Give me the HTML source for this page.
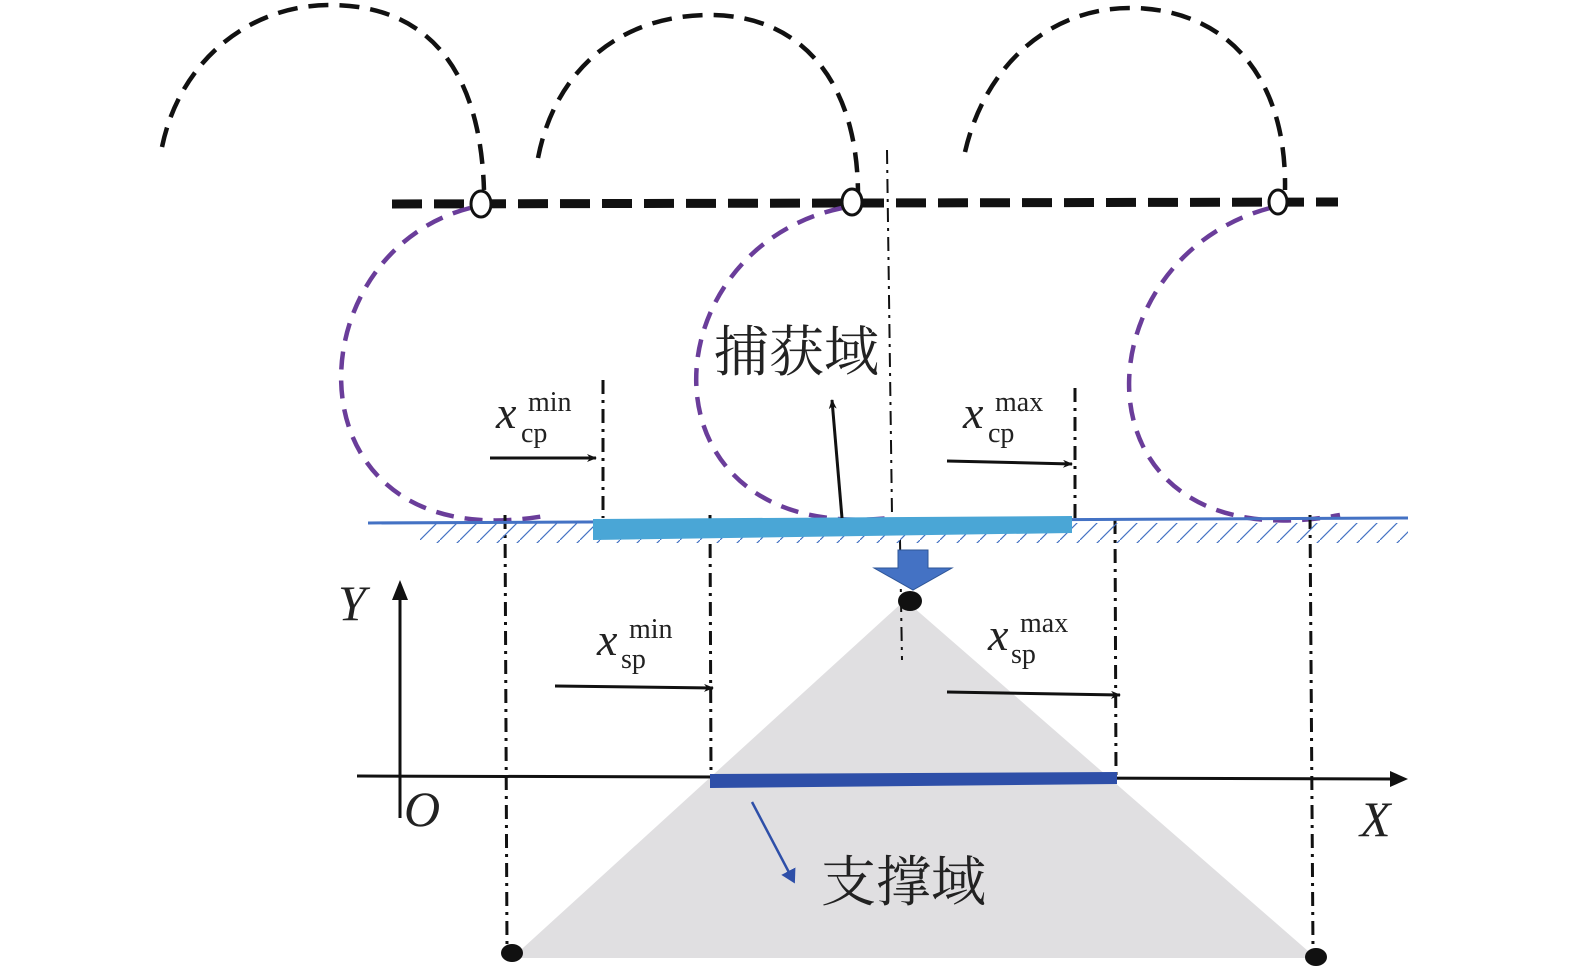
<!DOCTYPE html>
<html><head><meta charset="utf-8"><style>html,body{margin:0;padding:0;background:#fff}svg{display:block}</style></head>
<body>
<svg width="1575" height="972" viewBox="0 0 1575 972" xmlns="http://www.w3.org/2000/svg">
<defs>
<marker id="ah" markerWidth="10" markerHeight="8" refX="9" refY="4" orient="auto" markerUnits="userSpaceOnUse"><path d="M0,0 L10,4 L0,8 L3,4z" fill="#111"/></marker>
<marker id="ahb" markerWidth="16" markerHeight="16" refX="10" refY="8" orient="auto" markerUnits="userSpaceOnUse"><path d="M0,0 L14,8 L0,16z" fill="#2e4fa8"/></marker>
<pattern id="hatch" width="20" height="20" patternUnits="userSpaceOnUse"><path d="M0,20 L20,0" stroke="#4472c4" stroke-width="1.2"/></pattern>
</defs>
<polygon points="905,600 512,958 1316,958" fill="#e0dfe1"/>
<g fill="none" stroke="#111" stroke-width="4.5" stroke-dasharray="20,11">
<path d="M162,147 C180,60 250,5 330,5 C420,5 480,60 484,190"/>
<path d="M538,158 C555,70 620,15 710,15 C800,15 858,80 858,195"/>
<path d="M965,152 C985,65 1050,8 1130,8 C1220,8 1287,70 1285,190"/>
</g>
<line x1="392" y1="204" x2="1338" y2="202" stroke="#111" stroke-width="9" stroke-dasharray="30,12"/>
<g fill="none" stroke="#6a3d9a" stroke-width="4.5" stroke-dasharray="18,11">
<path d="M470,208 C288,255 285,565 550,515"/>
<path d="M842,208 C645,250 635,545 890,518"/>
<path d="M1270,208 C1075,260 1068,565 1340,515"/>
</g>
<g fill="#fff" stroke="#111" stroke-width="3">
<ellipse cx="481" cy="204" rx="10" ry="13"/>
<ellipse cx="852" cy="202" rx="10" ry="13"/>
<ellipse cx="1278" cy="202" rx="9" ry="12"/>
</g>
<g stroke="#111" stroke-width="3" stroke-dasharray="14,6,3,6" fill="none">
<line x1="887" y1="150" x2="892" y2="515" stroke-width="2"/>
<line x1="603" y1="380" x2="603" y2="518"/>
<line x1="1075" y1="388" x2="1075" y2="518"/>
<line x1="505" y1="515" x2="507" y2="948"/>
<line x1="1310" y1="515" x2="1313" y2="950"/>
<line x1="710" y1="515" x2="711" y2="775"/>
<line x1="1115" y1="520" x2="1116" y2="775"/>
<line x1="900" y1="540" x2="902" y2="660" stroke-width="2"/>
</g>
<rect x="420" y="523" width="988" height="20" fill="url(#hatch)"/>
<line x1="368" y1="523" x2="1408" y2="518" stroke="#4472c4" stroke-width="3"/>
<polygon points="593,519 1072,516 1072,533 593,540" fill="#4aa6d6"/>
<polygon points="898,550 928,550 928,568 952,568 913,590 874,568 898,568" fill="#4472c4" stroke="#2e5597" stroke-width="1"/>
<line x1="357" y1="776" x2="1395" y2="779" stroke="#111" stroke-width="3"/>
<polygon points="1408,779 1390,771 1390,787" fill="#111"/>
<line x1="400" y1="818" x2="400" y2="600" stroke="#111" stroke-width="3"/>
<polygon points="400,580 392,600 408,600" fill="#111"/>
<polygon points="710,774 1117,772 1117,784 710,788" fill="#2e4fa8"/>
<ellipse cx="512" cy="953" rx="11" ry="9" fill="#111"/>
<ellipse cx="1316" cy="957" rx="11" ry="9" fill="#111"/>
<ellipse cx="910" cy="601" rx="12" ry="10" fill="#111"/>
<g stroke="#111" stroke-width="3" fill="none" marker-end="url(#ah)">
<line x1="490" y1="458" x2="596" y2="458"/>
<line x1="947" y1="461" x2="1072" y2="464"/>
<line x1="555" y1="686" x2="713" y2="688"/>
<line x1="947" y1="692" x2="1120" y2="695"/>
<line x1="842" y1="518" x2="832" y2="400"/>
</g>
<line x1="752" y1="802" x2="793" y2="880" stroke="#2e4fa8" stroke-width="2.5" marker-end="url(#ahb)"/>
<g font-family="Liberation Serif, serif" fill="#222">
<text x="496" y="428" font-size="46" font-style="italic">x</text>
<text x="528" y="411" font-size="28">min</text>
<text x="521" y="442" font-size="28">cp</text>
<text x="963" y="428" font-size="46" font-style="italic">x</text>
<text x="995" y="411" font-size="28">max</text>
<text x="988" y="442" font-size="28">cp</text>
<text x="597" y="655" font-size="46" font-style="italic">x</text>
<text x="629" y="638" font-size="28">min</text>
<text x="621" y="668" font-size="28">sp</text>
<text x="988" y="650" font-size="46" font-style="italic">x</text>
<text x="1020" y="632" font-size="28">max</text>
<text x="1011" y="663" font-size="28">sp</text>
<text x="338" y="620" font-size="50" font-style="italic">Y</text>
<text x="404" y="826" font-size="50" font-style="italic">O</text>
<text x="1360" y="836" font-size="50" font-style="italic">X</text>
</g>
<g font-family="Liberation Serif, 'Noto Serif CJK SC', serif" fill="#222" font-size="55">
<text x="714" y="371">捕获域</text>
<text x="821" y="901">支撑域</text>
</g>
</svg>
</body></html>
